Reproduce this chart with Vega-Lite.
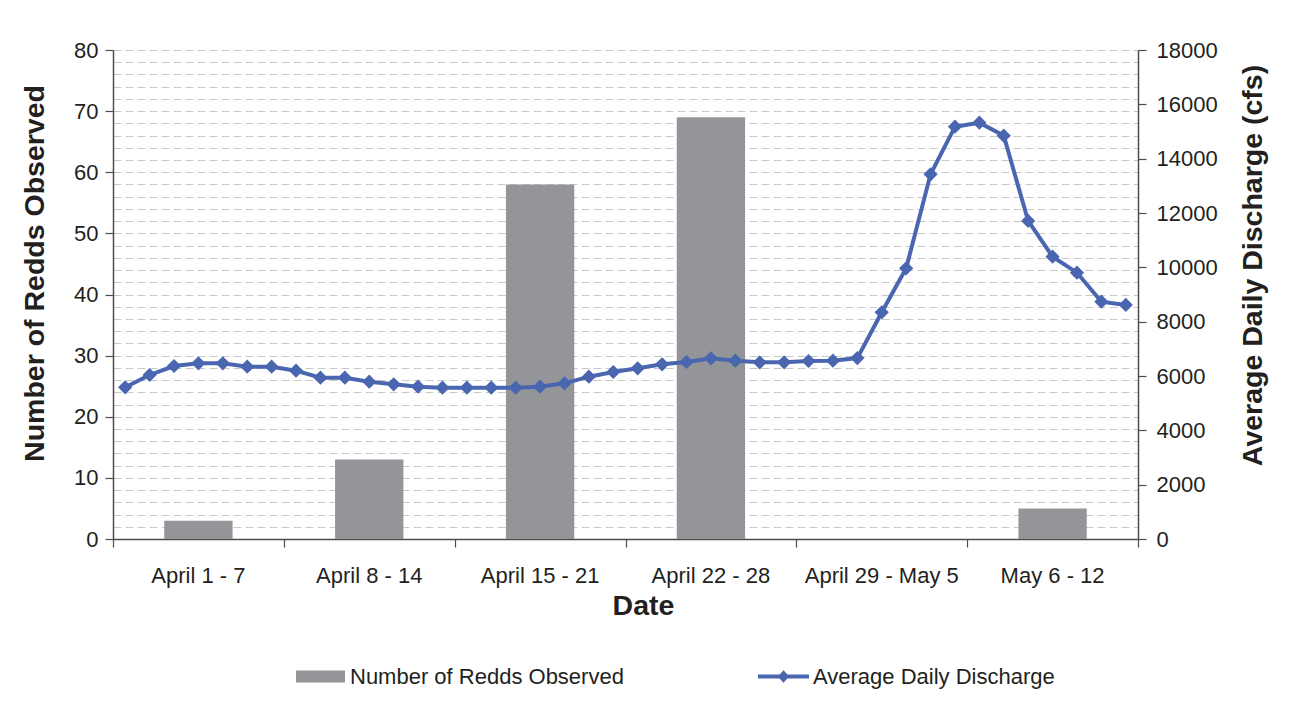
{
  "$schema": "https://vega.github.io/schema/vega-lite/v6.json",
  "width": 1025,
  "height": 489,
  "autosize": {"type": "none"},
  "padding": {"left": 113, "top": 50, "right": 155, "bottom": 167},
  "background": "white",
  "config": {
    "view": {"stroke": null},
    "font": "Liberation Sans",
    "axis": {
      "labelFont": "Liberation Sans",
      "titleFont": "Liberation Sans",
      "labelColor": "#231f20",
      "titleColor": "#231f20",
      "labelFontSize": 22,
      "titleFontSize": 28.5,
      "titleFontWeight": "bold",
      "domainColor": "#4d4d4d",
      "domainWidth": 1.5,
      "tickColor": "#4d4d4d",
      "tickWidth": 1.2
    },
    "legend": {"labelFont": "Liberation Sans", "labelFontSize": 22, "labelColor": "#231f20", "labelLimit": 0}
  },
  "datasets": {
    "weeks": [
      {"week": "April 1 - 7", "redds": 3},
      {"week": "April 8 - 14", "redds": 13},
      {"week": "April 15 - 21", "redds": 58},
      {"week": "April 22 - 28", "redds": 69},
      {"week": "April 29 - May 5", "redds": 0},
      {"week": "May 6 - 12", "redds": 5}
    ],
    "daily": [
      {"day": 1, "discharge": 5585}, {"day": 2, "discharge": 6037}, {"day": 3, "discharge": 6368},
      {"day": 4, "discharge": 6467}, {"day": 5, "discharge": 6467}, {"day": 6, "discharge": 6343},
      {"day": 7, "discharge": 6343}, {"day": 8, "discharge": 6196}, {"day": 9, "discharge": 5938},
      {"day": 10, "discharge": 5938}, {"day": 11, "discharge": 5791}, {"day": 12, "discharge": 5694},
      {"day": 13, "discharge": 5607}, {"day": 14, "discharge": 5570}, {"day": 15, "discharge": 5570},
      {"day": 16, "discharge": 5570}, {"day": 17, "discharge": 5570}, {"day": 18, "discharge": 5607},
      {"day": 19, "discharge": 5731}, {"day": 20, "discharge": 5975}, {"day": 21, "discharge": 6147},
      {"day": 22, "discharge": 6283}, {"day": 23, "discharge": 6430}, {"day": 24, "discharge": 6515},
      {"day": 25, "discharge": 6651}, {"day": 26, "discharge": 6564}, {"day": 27, "discharge": 6503},
      {"day": 28, "discharge": 6503}, {"day": 29, "discharge": 6552}, {"day": 30, "discharge": 6564},
      {"day": 31, "discharge": 6660}, {"day": 32, "discharge": 8345}, {"day": 33, "discharge": 9965},
      {"day": 34, "discharge": 13425}, {"day": 35, "discharge": 15177}, {"day": 36, "discharge": 15324},
      {"day": 37, "discharge": 14846}, {"day": 38, "discharge": 11706}, {"day": 39, "discharge": 10392},
      {"day": 40, "discharge": 9803}, {"day": 41, "discharge": 8735}, {"day": 42, "discharge": 8614}
    ]
  },
  "layer": [
    {
      "data": {"name": "weeks"},
      "mark": {"type": "bar"},
      "encoding": {
        "x": {
          "field": "week", "type": "nominal", "sort": null,
          "scale": {"paddingInner": 0.6, "paddingOuter": 0.3},
          "axis": {
            "title": "Date", "ticks": false, "labelAngle": 0, "labelPadding": 26,
            "titlePadding": 5, "titleX": 530, "grid": false, "orient": "bottom"
          }
        },
        "y": {
          "field": "redds", "type": "quantitative",
          "scale": {"domain": [0, 80]},
          "axis": {
            "title": "Number of Redds Observed",
            "orient": "left",
            "values": [0,2,4,6,8,10,12,14,16,18,20,22,24,26,28,30,32,34,36,38,40,42,44,46,48,50,52,54,56,58,60,62,64,66,68,70,72,74,76,78,80],
            "labelExpr": "datum.value % 10 === 0 ? datum.label : ''",
            "tickOpacity": {"condition": {"test": "datum.value % 10 === 0", "value": 1}, "value": 0},
            "tickSize": 8,
            "labelPadding": 7,
            "titlePadding": 24,
            "titleY": 223,
            "grid": true,
            "gridColor": "#c8c8c8",
            "gridDash": [8, 4],
            "gridWidth": 1
          }
        },
        "fill": {
          "datum": "Number of Redds Observed",
          "scale": {"range": ["#939598"]},
          "legend": {
            "title": null,
            "orient": "none",
            "legendX": 183,
            "legendY": 602,
            "symbolType": "M-1,-0.245H1V0.245H-1Z",
            "symbolSize": 2401,
            "symbolStrokeWidth": 0,
            "labelOffset": 5
          }
        }
      }
    },
    {
      "data": {"name": "daily"},
      "mark": {
        "type": "line", "color": "#4a66b0", "strokeWidth": 4,
        "point": {"shape": "diamond", "filled": true, "size": 130, "color": "#4a66b0"}
      },
      "encoding": {
        "x": {
          "field": "day", "type": "quantitative",
          "scale": {"domain": [0.5, 42.5], "nice": false, "zero": false},
          "axis": {
            "values": [0.5, 7.5, 14.5, 21.5, 28.5, 35.5, 42.5],
            "labels": false, "title": null, "tickSize": 8, "domain": false, "grid": false, "orient": "bottom"
          }
        },
        "y": {
          "field": "discharge", "type": "quantitative",
          "scale": {"domain": [0, 18000]},
          "axis": {
            "title": "Average Daily Discharge (cfs)",
            "orient": "right",
            "values": [0, 2000, 4000, 6000, 8000, 10000, 12000, 14000, 16000, 18000],
            "format": "d",
            "tickSize": 8,
            "labelPadding": 10,
            "titleAngle": -90,
            "titlePadding": 50,
            "titleY": 215,
            "grid": false
          }
        },
        "stroke": {
          "datum": "Average Daily Discharge",
          "scale": {"range": ["#4a66b0"]},
          "legend": {
            "title": null,
            "orient": "none",
            "legendX": 643,
            "legendY": 599,
            "symbolType": "M-1,0H1M-0.12,0L0,-0.13L0.12,0L0,0.13Z",
            "symbolSize": 2601,
            "symbolStrokeWidth": 4,
            "labelOffset": 2,
            "encode": {"symbols": {"update": {"fill": {"value": "#4a66b0"}}}}
          }
        }
      }
    }
  ],
  "resolve": {
    "scale": {"x": "independent", "y": "independent", "fill": "independent", "stroke": "independent"},
    "axis": {"x": "independent", "y": "independent"}
  }
}
